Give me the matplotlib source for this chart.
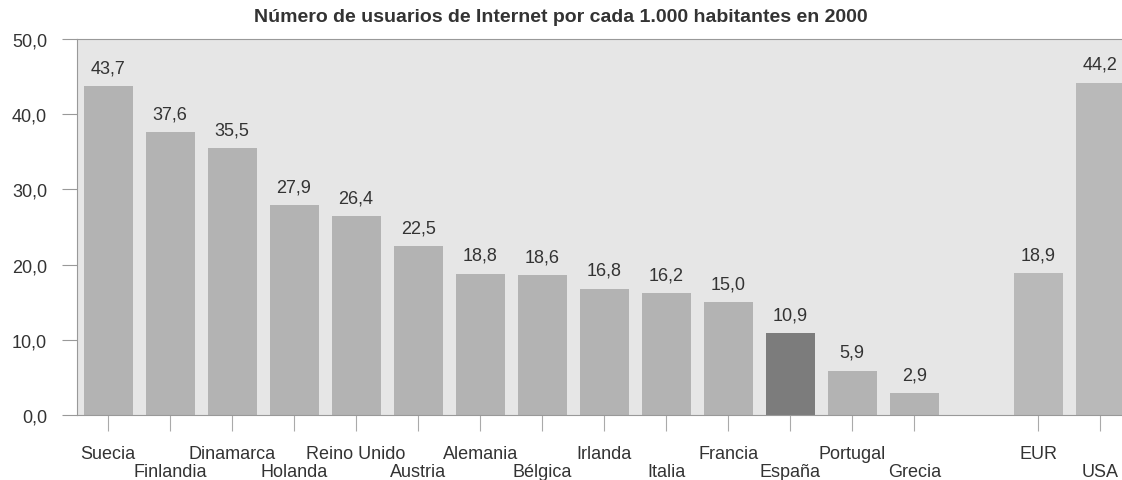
import numpy as np
import matplotlib.pyplot as plt

plt.rcParams['font.family'] = ['Liberation Sans', 'DejaVu Sans']

paises = ['Suecia', 'Finlandia', 'Dinamarca', 'Holanda', 'Reino Unido', 'Austria',
          'Alemania', 'Bélgica', 'Irlanda', 'Italia', 'Francia', 'España',
          'Portugal', 'Grecia', '', 'EUR', 'USA']
usuarios = [43.7, 37.6, 35.5, 27.9, 26.4, 22.5, 18.8, 18.6, 16.8, 16.2, 15.0, 10.9,
            5.9, 2.9, None, 18.9, 44.2]

fig = plt.figure(figsize=(11.22, 4.81), dpi=100)
ax = fig.add_axes([77/1122, 1 - 416/481, 1045/1122, 376/481])
ax.set_facecolor('#e6e6e6')

x = np.arange(len(paises))
colores = []
for p in paises:
    if p == 'España':
        colores.append('#7c7c7c')
    elif p in ('EUR', 'USA'):
        colores.append('#b9b9b9')
    else:
        colores.append('#b3b3b3')

for xi, v, c in zip(x, usuarios, colores):
    if v is None:
        continue
    ax.bar(xi, v, width=0.79, color=c, edgecolor='none', zorder=2)
    ax.annotate(f"{v:.1f}".replace('.', ','), (xi, v), xytext=(0, 7),
                textcoords='offset points', ha='center', va='bottom',
                fontsize=13, color='#333333')

ax.set_xlim(-0.5, 16.35)
ax.set_ylim(0, 50)
ax.set_yticks(np.arange(0, 51, 10))
ax.set_yticklabels([f"{t:.1f}".replace('.', ',') for t in np.arange(0, 51, 10)],
                   fontsize=13, color='#333333')

# labels alternate between two rows, in label order (the empty slot is skipped)
con_nombre = [i for i, p in enumerate(paises) if p]
fila1 = con_nombre[0::2]
fila2 = con_nombre[1::2]
ax.set_xticks(fila1)
ax.set_xticklabels([paises[i] for i in fila1], fontsize=13, color='#333333')
ax.set_xticks(fila2, minor=True)
ax.set_xticklabels([paises[i] for i in fila2], minor=True, fontsize=13, color='#333333')

ax.tick_params(axis='y', length=11, width=0.8, color='#999999', pad=10.5)
ax.tick_params(axis='x', which='both', length=11.5, width=0.8, color='#aaaaaa')
ax.tick_params(axis='x', which='major', pad=10)
ax.tick_params(axis='x', which='minor', pad=23)

for s in ax.spines.values():
    s.set_color('#999999')
    s.set_linestyle((0, (1, 1)))
    s.set_linewidth(0.8)
ax.spines['right'].set_visible(False)

fig.text(0.5, 1 - 17/481, 'Número de usuarios de Internet por cada 1.000 habitantes en 2000',
         ha='center', va='center', fontsize=14, fontweight='bold', color='#333333')

fig.savefig('out.png', dpi=100)
